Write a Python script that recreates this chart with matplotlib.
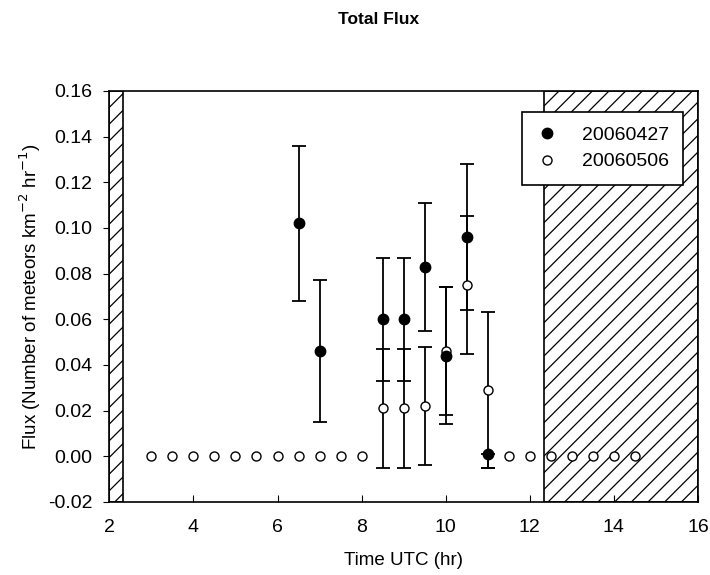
import matplotlib
matplotlib.use("Agg")
import matplotlib.pyplot as plt
import numpy as np

plt.rcParams['font.family'] = ['Liberation Sans', 'DejaVu Sans']
plt.rcParams['hatch.linewidth'] = 0.9

# Series 20060427 (filled)
t_a = [6.5, 7.0, 8.5, 9.0, 9.5, 10.0, 10.5, 11.0]
flux_a = [0.102, 0.046, 0.060, 0.060, 0.083, 0.044, 0.096, 0.001]
err_a_lo = [0.034, 0.031, 0.027, 0.027, 0.028, 0.030, 0.032, 0.006]
err_a_hi = [0.034, 0.031, 0.027, 0.027, 0.028, 0.030, 0.032, 0.0]

# Series 20060506 (open)
t_b = [3.0, 3.5, 4.0, 4.5, 5.0, 5.5, 6.0, 6.5, 7.0, 7.5, 8.0,
       8.5, 9.0, 9.5, 10.0, 10.5, 11.0,
       11.5, 12.0, 12.5, 13.0, 13.5, 14.0, 14.5]
flux_b = [0, 0, 0, 0, 0, 0, 0, 0, 0, 0, 0,
          0.021, 0.021, 0.022, 0.046, 0.075, 0.029,
          0, 0, 0, 0, 0, 0, 0]
err_b = [0, 0, 0, 0, 0, 0, 0, 0, 0, 0, 0,
         0.026, 0.026, 0.026, 0.028, 0.030, 0.034,
         0, 0, 0, 0, 0, 0, 0]

dark_spans = [(2.0, 2.33), (12.33, 16.0)]
xticks = [2, 4, 6, 8, 10, 12, 14, 16]
yticks = [-0.02, 0.00, 0.02, 0.04, 0.06, 0.08, 0.10, 0.12, 0.14, 0.16]

fig = plt.figure(figsize=(7.1, 5.75), dpi=100)
ax = fig.add_axes([0.154, 0.127, 0.829, 0.715])

for x0, x1 in dark_spans:
    ax.axvspan(x0, x1, facecolor='white', edgecolor='black', hatch='//',
               linewidth=1.2, zorder=0)

eb_b = np.array(err_b, dtype=float)
mask_b = eb_b > 0
ax.errorbar(np.array(t_b)[mask_b], np.array(flux_b)[mask_b], yerr=eb_b[mask_b],
            fmt='none', ecolor='black', elinewidth=1.3, capsize=5, capthick=1.3, zorder=2)
ax.errorbar(t_a, flux_a, yerr=[err_a_lo, err_a_hi], fmt='none', ecolor='black',
            elinewidth=1.3, capsize=5, capthick=1.3, zorder=2)

ax.plot(t_a, flux_a, 'o', color='black', markersize=7.5, zorder=4, label='20060427')
ax.plot(t_b, flux_b, 'o', markerfacecolor='white', markeredgecolor='black',
        markeredgewidth=1.0, markersize=6.5, zorder=3, label='20060506')

ax.set_xlim(2, 16)
ax.set_ylim(-0.02, 0.16)
ax.set_xticks(xticks)
ax.set_yticks(yticks)
ax.set_yticklabels([f"{v:.2f}" for v in yticks])
ax.tick_params(axis='x', direction='in', length=5, labelsize=14, pad=12)
ax.tick_params(axis='y', direction='out', length=4, labelsize=14, pad=8)
for s in ax.spines.values():
    s.set_linewidth(1.2)

ax.set_xlabel('Time UTC (hr)', fontsize=13.5, labelpad=12)
ax.set_ylabel('Flux (Number of meteors km$^{-2}$ hr$^{-1}$)', fontsize=13.5, labelpad=4)

leg = ax.legend(loc='upper right', bbox_to_anchor=(0.975, 0.949), borderaxespad=0,
                fontsize=14, frameon=True, fancybox=False, edgecolor='black',
                framealpha=1, handletextpad=1.3, borderpad=0.75, labelspacing=0.45,
                handlelength=1.0)
leg.get_frame().set_linewidth(1.2)

fig.text(379 / 710, 1 - 20 / 575, 'Total Flux', ha='center', va='center',
         fontsize=12.5, fontweight='bold')

fig.savefig('out.png', dpi=100)
